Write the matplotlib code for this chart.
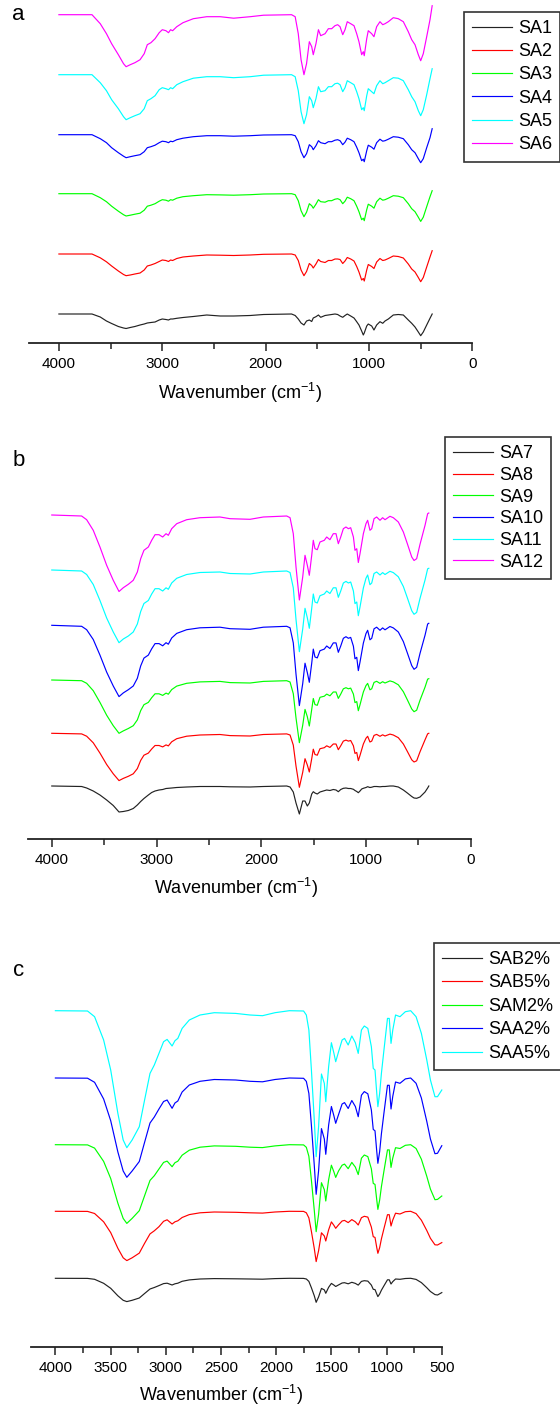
import numpy as np
import matplotlib
matplotlib.use("Agg")
import matplotlib.pyplot as plt
from matplotlib.ticker import MultipleLocator

plt.rcParams['font.family'] = ['Liberation Sans', 'DejaVu Sans']
plt.rcParams['mathtext.fontset'] = 'custom'
plt.rcParams['mathtext.rm'] = 'Liberation Sans'
plt.rcParams['mathtext.it'] = 'Liberation Sans:italic'

# ---------------- Panel a data (wavenumber, absorption depth) ----------------
wn_a = [4000, 3680, 3600, 3540, 3490, 3425, 3375, 3350, 3310, 3265,
        3215, 3175, 3145, 3110, 3070, 3030, 3000, 2965, 2940, 2920,
        2900, 2860, 2800, 2700, 2570, 2440, 2310, 2150, 2020, 1750,
        1715, 1685, 1658, 1630, 1605, 1578, 1555, 1540, 1514, 1490,
        1468, 1426, 1394, 1362, 1330, 1304, 1281, 1255, 1233, 1211,
        1178, 1146, 1120, 1098, 1072, 1056, 1047, 1023, 1008, 975,
        953, 927, 895, 868, 846, 814, 766, 718, 669, 621,
        588, 556, 524, 501, 476, 443, 411, 390]
SA1 = [0, 0, 3, 7, 9.5, 12.5, 14, 14.5, 13.5, 12.5,
       11, 10, 9, 8.5, 8, 6, 5, 5.5, 6, 5,
       5, 4.3, 3.5, 2.5, 1, 2, 2, 1.5, 0.5, 0,
       1.5, 5, 9, 11, 7, 6, 7.5, 4, 2.7, 1,
       3.3, 1.5, 1, 0.5, 0, 0.5, 2, 3.3, 1.5, 0,
       2, 4, 7.7, 11, 17, 21, 19, 12, 10, 12,
       16, 11, 7.7, 9.3, 7, 5, 1, 0.5, 1, 6,
       9.3, 13, 18, 21.7, 18, 11, 4.3, 0]
SA2 = [0, 0, 3.8, 7.8, 12, 17, 20.5, 21.7, 21, 20,
       19, 16, 12, 11, 9.5, 7.5, 6, 6.5, 7.5, 6,
       6.5, 4.5, 3, 2, 1, 1.2, 1.5, 1, 0.3, 0,
       1, 6.5, 16, 21.7, 17.5, 9.5, 11.5, 14, 10, 5.5,
       7.5, 8.5, 6.5, 6.5, 5, 5, 5.5, 9.5, 7, 3.5,
       5, 7, 12.5, 18, 26, 24.5, 27, 16, 10.5, 12.5,
       14.5, 8, 4.5, 6.5, 6, 4.5, 2, 2.5, 4, 10,
       15, 18, 23.5, 27.7, 23.5, 13, 3, -3.3]
SA3 = [0, 0, 4, 8, 12.5, 17.5, 21, 22.3, 21.5, 20.5,
       19.5, 16.5, 12.5, 11.5, 10, 7.5, 6, 6.5, 7.5, 6,
       6.5, 4.5, 3, 2, 1, 1.2, 1.5, 1, 0.3, 0,
       1, 7, 17, 23, 18.5, 10, 12, 14.5, 10.5, 6,
       8, 8.5, 7, 7, 5.5, 5, 6, 10, 7.5, 3.5,
       5, 7, 12.5, 18, 26, 24.5, 27, 16, 10.5, 12.5,
       14.5, 8, 4.5, 6.5, 6, 4.5, 2, 2.5, 4, 10,
       15, 18, 23.5, 27.7, 23.5, 13, 3, -3]
SA4 = [0, 0, 4, 8, 13, 18, 21.5, 23, 22, 21,
       20, 17, 13, 12, 10.5, 8, 6.5, 7, 8, 6.5,
       7, 5, 3.5, 2, 1, 1, 1.5, 1, 0.3, 0,
       1, 7, 17, 23, 19, 10, 12, 15, 11, 6,
       8, 9, 7, 7, 5.5, 5, 6, 10, 7.5, 3.5,
       5, 7, 12.5, 18, 26, 24.5, 27, 16, 10.5, 12.5,
       14.5, 8, 4.5, 6.5, 6, 4.5, 2, 2.5, 4, 10,
       15, 18, 24, 28, 24, 13, 3, -6]
SA5 = [0, 0, 8, 16, 25, 34, 42, 45, 43, 41,
       39, 34, 26, 24, 21, 15, 13, 14, 15, 13,
       14, 10, 7, 3.5, 2, 2, 3, 2, 0.5, 0,
       2, 16, 37, 49, 40, 22, 26, 33, 24, 12,
       17, 16, 12, 12, 9, 8.5, 10, 17, 13, 6,
       8, 10, 17, 24, 35, 33, 36, 21, 14, 17,
       19, 11, 6, 9, 8, 6, 3, 3.5, 6, 15,
       22, 27, 36, 41, 35, 20, 4, -6]
SA6 = [0, 0, 9, 19, 29, 40, 49, 52, 50, 48,
       45, 39, 30, 28, 24, 18, 15, 16, 18, 15,
       16, 12, 8, 4, 2, 2, 3.5, 2, 0.5, 0,
       2, 19, 45, 60, 49, 27, 32, 40, 29, 15,
       21, 19, 14, 14, 11, 10, 12, 20, 15, 7,
       9, 11, 19, 27, 40, 37, 41, 24, 16, 19,
       22, 12, 7, 10, 9, 7, 3, 4, 7, 17,
       25, 30, 40, 46, 39, 22, 5, -9]
labels_a = ['SA1', 'SA2', 'SA3', 'SA4', 'SA5', 'SA6']

# ---------------- Panel b data ----------------
wn_b = [4000, 3715, 3667, 3604, 3540, 3476, 3413, 3358, 3317, 3269,
        3222, 3183, 3151, 3120, 3078, 3046, 3014, 2976, 2941, 2909,
        2887, 2855, 2807, 2712, 2585, 2394, 2298, 2107, 1980, 1757,
        1725, 1694, 1668, 1636, 1604, 1582, 1560, 1541, 1518, 1503,
        1487, 1465, 1439, 1398, 1375, 1344, 1312, 1286, 1264, 1241,
        1216, 1191, 1168, 1146, 1120, 1105, 1088, 1073, 1057, 1041,
        1025, 1000, 984, 962, 945, 923, 898, 866, 841, 818,
        771, 739, 691, 643, 605, 563, 541, 516, 484, 436,
        411, 400]
SA7 = [0, 0.5, 2, 5, 9, 14, 19.5, 26, 25.5, 24.5,
       22.5, 19, 15.5, 12.5, 9, 6.5, 5, 4, 3.5, 2.5,
       2.3, 2, 1.5, 1, 0.5, 0.5, 0.8, 1, 0.5, 0,
       1, 6, 17, 28, 15, 15, 20, 17, 8, 5.7,
       7, 8, 6, 4.7, 4, 4.5, 3.5, 4, 5.7, 3.5,
       2.3, 2, 2.5, 2.5, 3.3, 4.5, 5.5, 6.7, 5, 3,
       2.3, 1.5, 0.7, 1.5, 1.2, 0.5, 0.5, 0.8, 0.5, 0.5,
       0, 0, 1, 4, 7, 10.5, 12, 12.3, 11, 6,
       2, 0]
SA8 = [0, 0.6, 2.9, 9.5, 19.8, 31.2, 40.5, 47.3, 45.1, 43,
       40.5, 35.3, 27.1, 21.9, 19.8, 15.7, 12.2, 12.2, 13.6, 11.6,
       12.6, 8.5, 5.4, 2.9, 1.7, 1.2, 2.3, 2.7, 1.2, 0.6,
       1.7, 11.8, 32.8, 54, 39, 25.4, 31.7, 38.7, 25.4, 15.9,
       21.2, 21.9, 15.4, 14.4, 12.5, 14.1, 10.7, 10.7, 16.4, 12.5,
       7.8, 6.8, 7.8, 7.2, 12.5, 20.1, 19.2, 27.3, 22.1, 16.4,
       10.7, 5, 3, 8.7, 7.8, 2.1, 1.1, 3, 1.5, 2.7,
       0.8, 1.7, 4.4, 10.7, 18.1, 26.5, 28.7, 27.5, 18.5, 6.5,
       0.5, 0]
SA9 = [0, 0.7, 3.3, 10.7, 22.4, 35.2, 45.7, 53.3, 50.9, 48.5,
       45.7, 39.9, 30.6, 24.7, 22.4, 17.7, 13.8, 13.8, 15.4, 13.1,
       14.2, 9.6, 6.1, 3.3, 1.9, 1.4, 2.6, 3, 1.4, 0.7,
       2, 13.7, 38, 62.7, 45.3, 29.4, 36.7, 46, 29.4, 18.5,
       24.6, 25.3, 17.3, 16.2, 14.1, 15.8, 12, 12, 18.4, 14.1,
       8.8, 7.7, 8.8, 8.1, 14.1, 22.6, 21.6, 30.7, 24.8, 18.4,
       12, 5.6, 3.4, 9.8, 8.8, 2.4, 1.3, 3.4, 1.7, 3,
       0.9, 1.9, 4.8, 11.7, 19.8, 29, 31.7, 30.2, 20.2, 7.1,
       -0.9, -1.3]
SA10 = [0, 1, 4.4, 14.2, 29.8, 46.8, 60.7, 71.3, 67.6, 64.4,
        60.7, 53, 40.6, 32.8, 29.8, 23.5, 18.3, 18.3, 20.5, 17.4,
        18.9, 12.7, 8.1, 4.4, 2.5, 1.9, 3.4, 4, 1.9, 1,
        2.5, 17.6, 48.9, 80.3, 58.3, 37.9, 47.3, 57, 37.9, 23.8,
        31.7, 32.6, 25.4, 23.8, 20.7, 23.2, 17.6, 17.6, 27, 20.7,
        13, 11.4, 13, 12.1, 20.9, 33.5, 32, 45.3, 36.8, 27.3,
        17.8, 8.3, 5, 14.5, 13, 3.5, 1.9, 5, 2.6, 4.5,
        1.2, 2.6, 6.7, 16.3, 27.6, 40.3, 44, 42, 28.1, 9.9,
        -1.3, -2]
SA11 = [0, 1, 4.5, 14.5, 30.5, 48, 62, 72.7, 69, 66,
        62, 54, 41.5, 33.5, 30.5, 24, 18.7, 18.7, 21, 17.8,
        19.3, 13, 8.3, 4.5, 2.5, 2, 3.5, 4, 2, 1,
        2.5, 17.8, 49.5, 81.7, 59, 38.3, 47.8, 58.3, 38.3, 24,
        32, 33, 25.7, 24, 21, 23.5, 17.8, 17.8, 27.3, 21,
        13, 11.4, 13, 12, 21, 33.6, 32, 45.7, 37, 27.5,
        18, 8.3, 5, 14.7, 13, 3.5, 2, 5, 2.6, 4.5,
        1.3, 2.6, 6.8, 16.5, 27.8, 40.7, 44.3, 42.4, 28.4, 10,
        -1.2, -1.7]
SA12 = [0, 1, 4.7, 15.3, 32, 50.3, 65.3, 76.5, 72.7, 69.3,
        65.3, 57, 43.7, 35.3, 32, 25.3, 19.7, 19.7, 22, 18.7,
        20.3, 13.7, 8.7, 4.7, 2.7, 2, 3.7, 4.3, 2, 1,
        2.7, 18.7, 52, 85, 62, 40.3, 50.3, 60.3, 40.3, 25.3,
        33.7, 34.7, 27, 25.3, 22, 24.7, 18.7, 18.7, 28.7, 22,
        13.7, 12, 13.7, 12.7, 22, 35.3, 33.7, 47.5, 38.7, 28.7,
        18.7, 8.7, 5.3, 15.3, 13.7, 3.7, 2, 5.3, 2.7, 4.7,
        1.3, 2.7, 7, 17, 28.7, 42, 45.5, 43.7, 29.3, 10.3,
        -1.3, -2]
labels_b = ['SA7', 'SA8', 'SA9', 'SA10', 'SA11', 'SA12']

# ---------------- Panel c data ----------------
wn_c = [4000, 3709, 3645, 3563, 3499, 3434, 3386, 3353, 3305, 3240,
        3192, 3143, 3104, 3062, 3020, 2988, 2943, 2917, 2891, 2852,
        2787, 2690, 2561, 2367, 2237, 2124, 2011, 1881, 1752, 1727,
        1704, 1681, 1655, 1638, 1616, 1590, 1564, 1551, 1525, 1500,
        1477, 1461, 1435, 1403, 1381, 1348, 1315, 1283, 1257, 1228,
        1202, 1170, 1138, 1121, 1105, 1089, 1079, 1063, 1047, 1024,
        992, 976, 960, 944, 919, 879, 830, 782, 733, 685,
        636, 603, 562, 539, 500]
SAB2 = [0, 0.1, 1, 5, 10, 17.5, 22, 23.3, 22, 19.7,
        15.2, 10.7, 9.2, 7.3, 5.3, 4.9, 6.7, 5.5, 4.9, 3,
        1.6, 0.7, 0.3, 0.5, 0.7, 0.9, 0.3, 0, 0.1, 0.7,
        3.1, 9.5, 17.5, 24, 18.6, 10.1, 11.6, 15, 9, 5.1,
        6.8, 8.2, 6.6, 4.7, 4.4, 5.5, 4, 5.1, 6.8, 3.1,
        2.4, 2.8, 6.8, 11, 11.3, 15.7, 18.3, 15.7, 11.9, 7.5,
        1.5, 1.5, 5.7, 3.3, 0.7, 1, 0.2, 0, 1.1, 4.3,
        9.4, 13.2, 16.3, 16.7, 14.3]
SAB5 = [0, 0.1, 2.2, 10.5, 21.3, 37, 46.5, 49.3, 46.5, 41.8,
        32, 22.6, 19.5, 15.4, 10, 8.5, 12.7, 10.5, 9.5, 6.2,
        3.3, 1.5, 0.7, 1, 1.5, 1.8, 0.7, 0, 0.1, 1.5,
        6.6, 20.2, 37.2, 50.3, 39.4, 21.5, 24.7, 29.7, 18.5, 10.6,
        14.1, 17, 13.5, 9.7, 9.1, 11.3, 8.3, 10.5, 13.7, 6.4,
        5, 5.8, 15.8, 25.4, 26.1, 36.4, 42, 36.4, 27.6, 17.3,
        3.4, 3.4, 14.7, 8.7, 1.9, 2.7, 0.4, 0, 2.3, 8.9,
        19.2, 27, 33.5, 33.7, 31.3]
SAM2 = [0, 0.2, 3.4, 16.7, 33.8, 58.5, 73.7, 78.7, 73.7, 66,
        51, 35.7, 31, 24.3, 17.7, 16.4, 22, 18, 16.5, 10.5,
        5.5, 2.5, 1.2, 1.6, 2.5, 2.9, 1.2, 0, 0.2, 2.6,
        11.6, 35.6, 65.6, 87, 69.6, 38, 45, 56.3, 35, 20.5,
        27.3, 32.7, 26.2, 20.5, 19.4, 24, 17.7, 22.4, 29.9, 13.5,
        10.3, 11.9, 24.1, 38.7, 39.7, 55.4, 64.7, 55.4, 42, 26.3,
        5.2, 5.2, 22.7, 13.3, 3, 3.8, 0.6, 0, 3.8, 14.5,
        31.6, 44.4, 55, 54.7, 51.3]
SAA2 = [0, 0.2, 4.3, 21, 42.7, 74, 93, 99.3, 93, 83.5,
        64.3, 45, 39, 31, 23.5, 22, 30.3, 25, 23, 14,
        7, 3.3, 1.5, 2, 3.3, 3.8, 1.5, 0, 0.3, 3.4,
        15.4, 47.4, 87.4, 116.3, 92.8, 50.6, 61, 76.3, 47, 28.5,
        38, 45.3, 36.5, 26, 24.6, 30.5, 22.5, 28.5, 38.7, 17.2,
        13.6, 15.8, 32, 51.4, 52.8, 73.6, 85.3, 73.6, 55.8, 35,
        7.3, 7.3, 31, 18.3, 4, 5.3, 0.9, 0, 5.3, 20,
        43.4, 61, 75.7, 75.3, 67.7]
SAA5 = [0, 0.3, 6, 29.3, 59.3, 102.7, 129.3, 137, 129.3, 116,
        89.3, 62.7, 54.3, 42.7, 31, 28.7, 35.3, 30, 27.7, 17.7,
        9.3, 4.3, 2, 2.7, 4.3, 5, 2, 0, 0.3, 4.3,
        19.3, 59.3, 109.3, 146, 116, 63.3, 72.7, 91, 56, 32,
        42.7, 51, 41, 29.3, 27.7, 34.3, 25.3, 32, 42.7, 19.3,
        15.3, 17.7, 36, 57.7, 59.3, 82.7, 96, 82.7, 62.7, 39.3,
        7.7, 7.7, 32.7, 19.3, 4.3, 6, 1, 0, 6, 22.7,
        49.3, 69.3, 86, 86, 79.3]
labels_c = ['SAB2%', 'SAB5%', 'SAM2%', 'SAA2%', 'SAA5%']

colors6 = ['#222222', '#ff0000', '#00ff00', '#0000ff', '#00ffff', '#ff00ff']

W, H = 560, 1406
fig = plt.figure(figsize=(W / 100, H / 100), dpi=100)


def panel(left, right, top, bottom, xlim, wn, series, labels, offsets,
          major, minor, label_xy, letter, letter_xy, leg_xy, lspace):
    ax = fig.add_axes([left / W, 1 - bottom / H, (right - left) / W, (bottom - top) / H])
    ax.set_xlim(*xlim)
    ax.set_ylim(-bottom, -top)
    for s, lab, off, col in zip(series, labels, offsets, colors6):
        ax.plot(wn, -(off + np.asarray(s, float)), color=col, lw=0.85, label=lab, clip_on=False)
    for sp in ['left', 'right', 'top']:
        ax.spines[sp].set_visible(False)
    ax.spines['bottom'].set_linewidth(1.3)
    ax.spines['bottom'].set_color('#222222')
    ax.set_yticks([])
    ax.xaxis.set_major_locator(MultipleLocator(major))
    ax.xaxis.set_minor_locator(MultipleLocator(minor))
    ax.tick_params(axis='x', which='major', direction='out', length=6, width=1.1,
                   color='#222222', labelsize=11, pad=4)
    ax.tick_params(axis='x', which='minor', direction='out', length=4, width=1.1, color='#222222')
    ax.set_xlabel('Wavenumber (cm$^{-1}$)', fontsize=13)
    ax.xaxis.set_label_coords(label_xy[0], label_xy[1])
    ax.xaxis.label.set_va('center')
    fig.text(letter_xy[0] / W, 1 - letter_xy[1] / H, letter, fontsize=16,
             ha='center', va='center')
    leg = ax.legend(loc='upper left', bbox_to_anchor=(leg_xy[0] / W, 1 - leg_xy[1] / H),
                    bbox_transform=fig.transFigure, fontsize=13, frameon=True,
                    fancybox=False, edgecolor='#333333', framealpha=1,
                    borderaxespad=0, handlelength=2.2, handletextpad=0.35,
                    labelspacing=lspace, borderpad=0.45)
    leg.get_frame().set_linewidth(1.2)
    return ax


panel(28.6, 472.5, 0, 343, (4293, 0), wn_a,
      [SA1, SA2, SA3, SA4, SA5, SA6], labels_a,
      [314, 254, 193.7, 134.7, 74.7, 14.7],
      1000, 500, (0.476, -0.146), 'a', (18, 15), (464, 11.7), 0.35)

panel(27.9, 470.7, 440, 839, (4228, 0), wn_b,
      [SA7, SA8, SA9, SA10, SA11, SA12], labels_b,
      [786, 733.3, 680, 625.3, 570, 515],
      1000, 500, (0.469, -0.123), 'b', (18.6, 460.7), (445, 437), 0.26)

panel(31.1, 441.8, 930, 1346.7, (4220, 500), wn_c,
      [SAB2, SAB5, SAM2, SAA2, SAA5], labels_c,
      [1278.3, 1211.3, 1144.7, 1078, 1010.7],
      500, 250, (0.462, -0.116), 'c', (18.6, 970), (434, 942.7), 0.36)

fig.savefig('out.png', dpi=100)
